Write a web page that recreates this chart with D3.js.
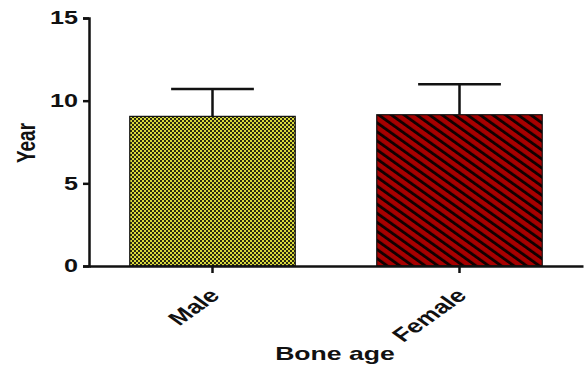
<!DOCTYPE html>
<html>
<head>
<meta charset="utf-8">
<script src="https://cdn.jsdelivr.net/npm/d3@7"></script>
<style>
  html, body { margin: 0; padding: 0; background: #fff; }
  svg { display: block; }
  text { font-family: "Liberation Sans", Arial, sans-serif; font-weight: bold; fill: #111; }
</style>
</head>
<body>
<script>
// Bone age by sex: mean and upper SD
const categories = ["Male", "Female"];
const means = [9.05, 9.15];
const sds = [1.65, 1.85];
const yTicks = [0, 5, 10, 15];

const W = 584, H = 366;
const SX = 1.4; // wide lettering
const svg = d3.select("body").append("svg").attr("width", W).attr("height", H);
const defs = svg.append("defs");

// Checkered fill for the first bar
const chk = defs.append("pattern").attr("id", "chk")
  .attr("patternUnits", "userSpaceOnUse").attr("width", 4).attr("height", 4);
chk.append("rect").attr("width", 4).attr("height", 4).attr("fill", "#dada3c");
chk.append("rect").attr("width", 2).attr("height", 2).attr("fill", "#2a2a10");
chk.append("rect").attr("x", 2).attr("y", 2).attr("width", 2).attr("height", 2).attr("fill", "#2a2a10");

// Diagonal hatch for the second bar
const P = 6.4;
const hatch = defs.append("pattern").attr("id", "hatch")
  .attr("patternUnits", "userSpaceOnUse").attr("width", P).attr("height", P)
  .attr("patternTransform", `scale(${SX},1) rotate(-45)`);
hatch.append("rect").attr("width", P).attr("height", P).attr("fill", "#a80000");
hatch.append("rect").attr("width", 2.5).attr("height", P).attr("fill", "#120000");

const x = d3.scaleBand().domain(categories).range([89, 583])
  .paddingInner(0.33).paddingOuter(0.165);
const y = d3.scaleLinear().domain([0, 15]).range([266, 18]);

const fills = ["url(#chk)", "url(#hatch)"];

// Error bars (upper only)
categories.forEach((c, i) => {
  const cx = x(c) + x.bandwidth() / 2;
  const capW = x.bandwidth() / 2;
  svg.append("line").attr("x1", cx).attr("x2", cx)
    .attr("y1", y(means[i])).attr("y2", y(means[i] + sds[i]))
    .attr("stroke", "#111").attr("stroke-width", 2.5);
  svg.append("line").attr("x1", cx - capW / 2).attr("x2", cx + capW / 2)
    .attr("y1", y(means[i] + sds[i])).attr("y2", y(means[i] + sds[i]))
    .attr("stroke", "#111").attr("stroke-width", 2.5);
});

// Bars
svg.selectAll("rect.bar").data(categories).enter().append("rect")
  .attr("class", "bar")
  .attr("x", d => x(d))
  .attr("width", x.bandwidth())
  .attr("y", (d, i) => y(means[i]))
  .attr("height", (d, i) => y(0) - y(means[i]))
  .attr("fill", (d, i) => fills[i])
  .attr("stroke", "#111").attr("stroke-width", 1.2);

// Y axis
const yAxis = svg.append("g").attr("transform", "translate(89,0)")
  .call(d3.axisLeft(y).tickValues(yTicks).tickSize(6).tickPadding(3).tickFormat(d3.format("d")));
yAxis.select(".domain").attr("stroke", "#111").attr("stroke-width", 2.5);
yAxis.selectAll(".tick line").attr("stroke", "#111").attr("stroke-width", 2.5);
yAxis.selectAll(".tick text")
  .style("font-size", "18px").style("font-weight", "bold")
  .style("font-family", "'Liberation Sans', Arial, sans-serif").attr("fill", "#111")
  .attr("x", -11 / SX)
  .attr("transform", `scale(${SX},1)`);

// X axis
const xAxis = svg.append("g").attr("transform", "translate(0,266)")
  .call(d3.axisBottom(x).tickSize(7).tickSizeOuter(0));
xAxis.select(".domain").attr("stroke", "#111").attr("stroke-width", 2.5);
xAxis.selectAll(".tick line").attr("stroke", "#111").attr("stroke-width", 2.5);
xAxis.selectAll(".tick text").remove();

// Slanted category labels
categories.forEach(c => {
  const tx = x(c) + x.bandwidth() / 2;
  svg.append("text")
    .attr("transform", `translate(${tx - 5},287) scale(${SX},1) rotate(-45)`)
    .attr("text-anchor", "end").attr("dy", "0.72em")
    .style("font-size", "19px").text(c);
});

// Axis titles
svg.append("text").attr("transform", `translate(335,360) scale(${SX},1)`)
  .attr("text-anchor", "middle").style("font-size", "19px").text("Bone age");
svg.append("text").attr("transform", `translate(35,143) scale(${SX},1) rotate(-90)`)
  .attr("text-anchor", "middle").style("font-size", "19px").text("Year");
</script>
</body>
</html>
